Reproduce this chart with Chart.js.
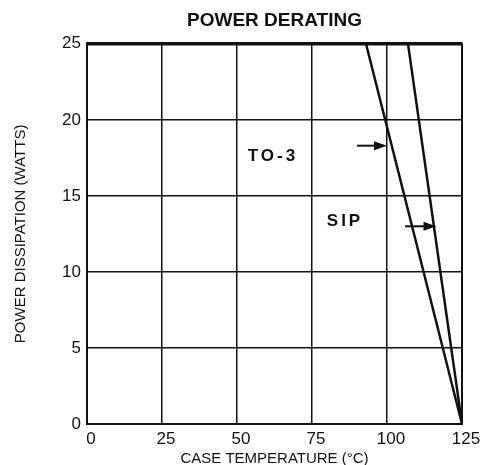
<!DOCTYPE html>
<html>
<head>
<meta charset="utf-8">
<script src="https://cdn.jsdelivr.net/npm/chart.js@4/dist/chart.umd.min.js"></script>
<style>
  html, body { margin: 0; padding: 0; background: #fff; }
  #wrap { width: 483px; height: 465px; }
</style>
</head>
<body>
<div id="wrap"><canvas id="chart" width="483" height="465"></canvas></div>
<script>
// curves (case temp in degC, watts)
const to3Temps = [0, 93, 125];
const to3Watts = [25, 25, 0];
const sipTemps = [0, 107, 125];
const sipWatts = [25, 25, 0];

const xTicks = [0, 25, 50, 75, 100, 125];
const yTicks = [0, 5, 10, 15, 20, 25];

// callout labels + arrows, in data units
const calloutNames = ['TO-3', 'SIP'];
const calloutTemps = [62, 86];
const calloutWatts = [17.6, 13.3];
const arrowFromTemps = [90, 106];
const arrowToTemps = [100, 116.5];
const arrowWatts = [18.3, 13.0];

const FONT = "'Liberation Sans', Arial, Helvetica, sans-serif";
const INK = '#111';

const toPoints = (xs, ys) => xs.map((x, i) => ({ x: x, y: ys[i] }));

const framePlugin = {
  id: 'frame',
  afterDatasetsDraw(chart) {
    const { ctx, chartArea: a } = chart;
    ctx.save();
    ctx.strokeStyle = INK;
    ctx.lineWidth = 2;
    ctx.strokeRect(a.left, a.top, a.right - a.left, a.bottom - a.top);
    ctx.lineWidth = 3.5;
    ctx.beginPath();
    ctx.moveTo(a.left - 1, a.top);
    ctx.lineTo(a.right, a.top);
    ctx.stroke();
    ctx.restore();
  }
};

const calloutPlugin = {
  id: 'callouts',
  afterDatasetsDraw(chart) {
    const { ctx, scales: { x, y } } = chart;
    ctx.save();
    ctx.fillStyle = INK;
    ctx.strokeStyle = INK;
    ctx.font = 'bold 17px ' + FONT;
    ctx.textAlign = 'center';
    ctx.textBaseline = 'middle';
    ctx.letterSpacing = '3px';
    calloutNames.forEach((name, i) => {
      ctx.fillText(name, x.getPixelForValue(calloutTemps[i]), y.getPixelForValue(calloutWatts[i]));
    });
    ctx.letterSpacing = '0px';
    ctx.lineWidth = 2;
    arrowWatts.forEach((w, i) => {
      const x0 = x.getPixelForValue(arrowFromTemps[i]);
      const x1 = x.getPixelForValue(arrowToTemps[i]);
      const py = y.getPixelForValue(w);
      ctx.beginPath();
      ctx.moveTo(x0, py);
      ctx.lineTo(x1 - 8, py);
      ctx.stroke();
      ctx.beginPath();
      ctx.moveTo(x1, py);
      ctx.lineTo(x1 - 13, py - 4.5);
      ctx.lineTo(x1 - 13, py + 4.5);
      ctx.closePath();
      ctx.fill();
    });
    ctx.restore();
  }
};

const lineStyle = {
  showLine: true,
  borderColor: INK,
  borderWidth: 2.5,
  pointRadius: 0,
  fill: false,
  tension: 0
};

new Chart(document.getElementById('chart'), {
  type: 'scatter',
  data: {
    datasets: [
      Object.assign({ label: 'TO-3', data: toPoints(to3Temps, to3Watts) }, lineStyle),
      Object.assign({ label: 'SIP', data: toPoints(sipTemps, sipWatts) }, lineStyle)
    ]
  },
  options: {
    responsive: false,
    animation: false,
    devicePixelRatio: 1,
    layout: { padding: { left: 0, right: 21, top: 0, bottom: 0 } },
    plugins: {
      legend: { display: false },
      tooltip: { enabled: false },
      title: {
        display: true,
        text: 'POWER DERATING',
        fullSize: false,
        color: INK,
        font: { family: FONT, size: 19, weight: 'bold' },
        padding: { top: 9, bottom: 12 }
      }
    },
    scales: {
      x: {
        type: 'linear',
        min: 0,
        max: 125,
        afterBuildTicks: (s) => { s.ticks = xTicks.map(v => ({ value: v })); },
        afterFit: (s) => { s.height = 41; },
        ticks: { color: INK, padding: 5, labelOffset: 4, font: { family: FONT, size: 17 } },
        grid: { color: INK, lineWidth: 1.5, drawTicks: false },
        border: { display: false },
        title: {
          display: true,
          text: 'CASE TEMPERATURE (°C)',
          color: INK,
          font: { family: FONT, size: 15 },
          padding: { top: 0, bottom: -3 }
        }
      },
      y: {
        type: 'linear',
        min: 0,
        max: 25,
        afterBuildTicks: (s) => { s.ticks = yTicks.map(v => ({ value: v })); },
        afterFit: (s) => { s.width = 87; },
        ticks: { color: INK, padding: 6, font: { family: FONT, size: 17 } },
        grid: { color: INK, lineWidth: 1.5, drawTicks: false },
        border: { display: false },
        title: {
          display: true,
          text: 'POWER DISSIPATION (WATTS)',
          color: INK,
          font: { family: FONT, size: 15 },
          padding: { top: 12, bottom: 0 }
        }
      }
    }
  },
  plugins: [framePlugin, calloutPlugin]
});
</script>
</body>
</html>
